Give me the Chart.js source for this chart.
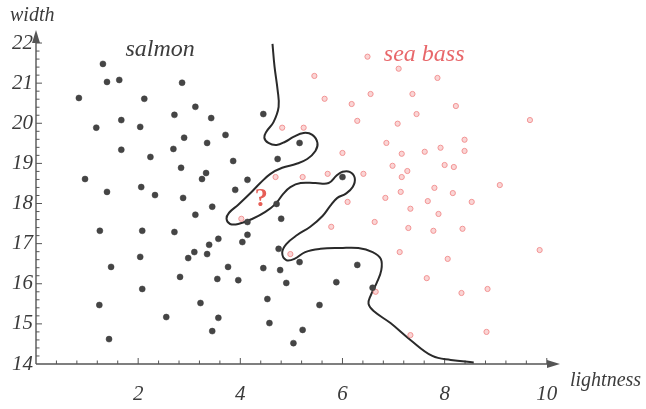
<!DOCTYPE html>
<html>
<head>
<meta charset="utf-8">
<script src="https://cdn.jsdelivr.net/npm/chart.js@4.4.1/dist/chart.umd.min.js"></script>
<style>
  html, body { margin: 0; padding: 0; background: #ffffff; }
  canvas { display: block; }
</style>
</head>
<body>
<canvas id="fish" width="646" height="409"></canvas>
<script>
// Salmon samples (lightness, width)
const salmonLightness = [1.31,1.39,1.63,2.86,0.84,2.12,3.12,2.71,3.43,4.45,1.67,1.18,2.04,3.71,2.90,3.35,2.69,5.16,1.67,2.24,
  3.86,4.73,2.84,3.33,3.25,4.14,0.96,1.39,2.06,2.33,2.88,3.90,6.00,3.45,3.12,4.71,4.80,4.14,1.25,2.08,
  2.71,4.14,4.04,3.57,3.39,3.10,3.35,2.98,2.04,4.75,5.16,1.47,3.76,4.45,4.78,2.82,3.55,3.96,2.08,4.90,
  1.24,3.22,4.53,5.55,2.55,3.57,4.57,3.45,5.22,1.43,5.04,6.29,5.88,6.59];
const salmonWidth = [21.48,21.03,21.08,21.01,20.63,20.61,20.41,20.21,20.13,20.23,20.08,19.89,19.91,19.71,19.64,19.51,19.36,19.51,19.34,19.16,
  19.06,19.11,18.89,18.76,18.61,18.59,18.61,18.29,18.41,18.21,18.14,18.34,18.66,17.92,17.72,17.99,17.62,17.54,17.32,17.32,
  17.29,17.22,17.04,17.12,16.97,16.79,16.74,16.64,16.67,16.87,16.54,16.42,16.42,16.39,16.34,16.17,16.12,16.09,15.87,16.02,
  15.47,15.52,15.62,15.47,15.17,15.15,15.02,14.82,14.85,14.62,14.52,16.47,16.04,15.90];

// Sea bass samples (lightness, width)
const seaBassLightness = [6.49,7.10,5.45,7.86,5.65,6.55,7.37,6.18,8.22,7.45,6.29,7.08,9.67,5.24,4.82,6.86,6.00,7.16,7.61,7.92,
  8.39,8.39,6.98,7.27,8.00,8.18,7.16,5.71,6.41,9.08,7.14,7.80,8.16,6.84,5.22,4.69,6.10,7.67,8.53,7.33,
  7.88,6.63,7.29,7.78,8.35,7.12,8.06,9.86,7.65,8.84,8.33,6.65,7.33,8.82,4.02,4.98,5.78];
const seaBassWidth = [21.66,21.36,21.18,21.13,20.61,20.73,20.73,20.48,20.43,20.23,20.06,19.99,20.08,19.89,19.89,19.51,19.26,19.24,19.29,19.39,
  19.59,19.31,18.94,18.81,18.96,18.91,18.66,18.74,18.74,18.46,18.29,18.39,18.26,18.14,18.66,18.66,18.04,18.06,18.04,17.87,
  17.74,17.54,17.39,17.32,17.37,16.79,16.62,16.84,16.14,15.87,15.77,15.80,14.72,14.80,17.62,16.74,17.42];

// Decision boundary between the two classes
const boundaryLightness = [4.63,4.67,4.73,4.75,4.65,4.51,4.47,4.55,4.71,4.88,5.04,5.24,5.41,5.51,5.47,5.31,5.10,4.82,4.59,4.39,
  4.20,3.96,3.78,3.73,3.80,3.96,4.24,4.49,4.69,4.84,4.98,5.18,5.47,5.73,5.88,6.00,6.14,6.24,6.20,6.06,
  5.90,5.76,5.61,5.37,5.12,4.90,4.82,4.90,5.06,5.27,5.57,5.96,6.31,6.59,6.75,6.76,6.67,6.55,6.51,6.61,
  6.94,7.33,7.76,8.12,8.57];
const boundaryWidth = [21.98,21.41,20.83,20.41,20.03,19.79,19.64,19.51,19.46,19.54,19.66,19.76,19.71,19.51,19.31,19.11,18.99,18.89,18.74,18.51,
  18.26,17.97,17.77,17.62,17.49,17.49,17.62,17.79,17.99,18.24,18.41,18.51,18.51,18.51,18.69,18.79,18.79,18.64,18.41,18.24,
  18.14,17.94,17.69,17.42,17.22,16.99,16.77,16.59,16.62,16.79,16.87,16.89,16.89,16.79,16.62,16.34,16.02,15.70,15.50,15.32,
  15.02,14.60,14.20,14.10,14.04];

// Unclassified sample
const queryLightness = 4.41;
const queryWidth = 18.17;

// Axis tick labels
const xTickValues = [2, 4, 6, 8, 10];
const yTickValues = [14, 15, 16, 17, 18, 19, 20, 21, 22];

const X_MIN = 0, X_MAX = 10.2, Y_MIN = 14, Y_MAX = 22.25;

const zip = (xs, ys) => xs.map((x, i) => ({ x: x, y: ys[i] }));

const SERIF = '"Liberation Serif", "DejaVu Serif", serif';
const INK = '#3c3c3c';
const BASS_RED = '#e8676a';

// Axes with arrowheads, inward minor ticks and the annotation texts
const decorations = {
  id: 'decorations',
  beforeDatasetsDraw(chart) {
    const ctx = chart.ctx;
    const xs = chart.scales.x, ys = chart.scales.y;
    const x0 = xs.getPixelForValue(X_MIN), x1 = xs.getPixelForValue(X_MAX);
    const y0 = ys.getPixelForValue(Y_MIN), y1 = ys.getPixelForValue(Y_MAX);
    ctx.save();
    ctx.strokeStyle = '#555';
    ctx.fillStyle = '#555';
    ctx.lineWidth = 1.4;
    ctx.beginPath();
    ctx.moveTo(x0, y0); ctx.lineTo(x1 - 4, y0);
    ctx.moveTo(x0, y0); ctx.lineTo(x0, y1 + 4);
    ctx.stroke();
    // arrowheads
    ctx.beginPath();
    ctx.moveTo(x1 + 3, y0); ctx.lineTo(x1 - 10, y0 - 4); ctx.lineTo(x1 - 10, y0 + 4); ctx.closePath();
    ctx.fill();
    ctx.beginPath();
    ctx.moveTo(x0, y1 - 3); ctx.lineTo(x0 - 4, y1 + 10); ctx.lineTo(x0 + 4, y1 + 10); ctx.closePath();
    ctx.fill();
    // x ticks every 0.4
    ctx.lineWidth = 1;
    ctx.beginPath();
    for (let i = 1; i <= 25; i++) {
      const v = i * 0.4;
      const px = xs.getPixelForValue(v);
      const len = (i % 5 === 0) ? 6 : 3.5;
      ctx.moveTo(px, y0); ctx.lineTo(px, y0 - len);
    }
    // y ticks every 0.2
    for (let i = 1; i <= 41; i++) {
      const v = Y_MIN + i * 0.2;
      if (v > 22.05) break;
      const py = ys.getPixelForValue(v);
      const len = (i % 5 === 0) ? 6 : 3.5;
      ctx.moveTo(x0, py); ctx.lineTo(x0 + len, py);
    }
    ctx.stroke();
    ctx.restore();
  },
  afterDraw(chart) {
    const ctx = chart.ctx;
    const xs = chart.scales.x, ys = chart.scales.y;
    ctx.save();
    ctx.textBaseline = 'alphabetic';
    // axis titles
    ctx.fillStyle = INK;
    ctx.font = 'italic 20px ' + SERIF;
    ctx.textAlign = 'left';
    ctx.fillText('width', 10, 21);
    ctx.fillText('lightness', 570, 386);
    // class names
    ctx.textAlign = 'center';
    ctx.font = 'italic 24px ' + SERIF;
    ctx.fillStyle = INK;
    ctx.fillText('salmon', xs.getPixelForValue(2.43), ys.getPixelForValue(21.68));
    ctx.fillStyle = BASS_RED;
    ctx.fillText('sea bass', xs.getPixelForValue(7.6), ys.getPixelForValue(21.55));
    // unknown sample
    ctx.font = 'bold 26px ' + SERIF;
    ctx.fillStyle = '#e65e56';
    ctx.textBaseline = 'alphabetic';
    ctx.fillText('?', xs.getPixelForValue(queryLightness), ys.getPixelForValue(queryWidth) + 9);
    ctx.restore();
  }
};

new Chart(document.getElementById('fish'), {
  type: 'scatter',
  data: {
    datasets: [
      {
        label: 'decision boundary',
        data: zip(boundaryLightness, boundaryWidth),
        showLine: true,
        tension: 0.4,
        borderColor: '#2a2a2a',
        borderWidth: 2,
        pointRadius: 0,
        fill: false,
        order: 3
      },
      {
        label: 'sea bass',
        data: zip(seaBassLightness, seaBassWidth),
        pointRadius: 2.6,
        pointBackgroundColor: 'rgba(247,185,185,0.6)',
        pointBorderColor: '#f29494',
        pointBorderWidth: 1,
        order: 2
      },
      {
        label: 'salmon',
        data: zip(salmonLightness, salmonWidth),
        pointRadius: 3,
        pointBackgroundColor: '#454545',
        pointBorderColor: '#3a3a3a',
        pointBorderWidth: 0.5,
        order: 1
      }
    ]
  },
  options: {
    responsive: false,
    animation: false,
    devicePixelRatio: 1,
    layout: { padding: { left: 0, top: 33, right: 89, bottom: 0 } },
    plugins: { legend: { display: false }, tooltip: { enabled: false } },
    scales: {
      x: {
        type: 'linear',
        min: X_MIN,
        max: X_MAX,
        afterBuildTicks(scale) { scale.ticks = xTickValues.map(v => ({ value: v })); },
        afterFit(scale) { scale.height = 45; },
        grid: { display: false, drawTicks: false },
        border: { display: false },
        ticks: {
          padding: 18,
          color: INK,
          font: { family: SERIF, style: 'italic', size: 21 }
        }
      },
      y: {
        type: 'linear',
        min: Y_MIN,
        max: Y_MAX,
        afterBuildTicks(scale) { scale.ticks = yTickValues.map(v => ({ value: v })); },
        afterFit(scale) { scale.width = 36; },
        grid: { display: false, drawTicks: false },
        border: { display: false },
        ticks: {
          padding: 3,
          color: INK,
          font: { family: SERIF, style: 'italic', size: 21 }
        }
      }
    }
  },
  plugins: [decorations]
});
</script>
</body>
</html>
